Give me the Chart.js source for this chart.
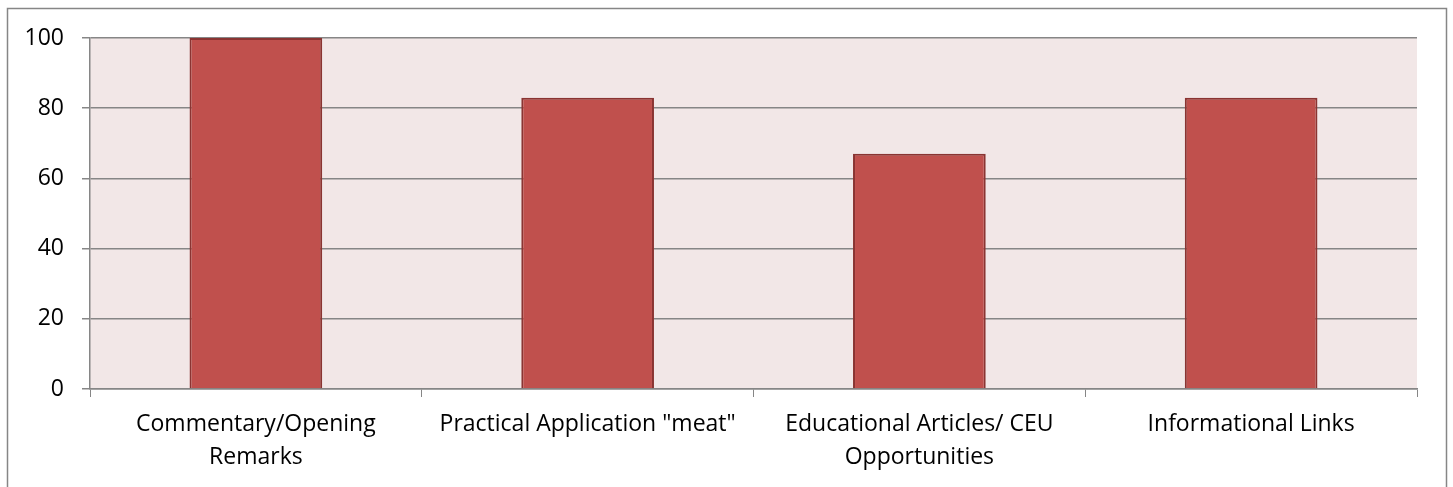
<!DOCTYPE html>
<html>
<head>
<meta charset="utf-8">
<script src="https://cdn.jsdelivr.net/npm/chart.js@4"></script>
<style>
  html, body { margin: 0; padding: 0; background: #fff; }
  #wrap { position: relative; width: 1453px; height: 487px; }
</style>
</head>
<body>
<div id="wrap"><canvas id="myChart" width="1453" height="487"></canvas></div>
<script>
// data
const categories = [
  ['Commentary/Opening', 'Remarks'],
  'Practical Application "meat"',
  ['Educational Articles/ CEU', 'Opportunities'],
  'Informational Links'
];
const values = [100, 83, 67, 83];
const yTicks = [0, 20, 40, 60, 80, 100];

const FONT = "'Open Sans', 'Liberation Sans', sans-serif";

// frame + plot background
const frame = {
  id: 'frame',
  beforeDraw(chart) {
    const {ctx, chartArea: a} = chart;
    ctx.save();
    ctx.fillStyle = '#F2E7E7';
    ctx.fillRect(a.left, a.top, a.right - a.left, a.bottom - a.top);
    ctx.strokeStyle = '#868686';
    ctx.lineWidth = 1.5;
    ctx.strokeRect(7.5, 8.5, 1439, 500);
    ctx.restore();
  }
};

const config = {
  type: 'bar',
  data: {
    labels: categories,
    datasets: [{
      data: values,
      backgroundColor: '#C0504D',
      borderColor: '#8A3432',
      borderWidth: 2,
      categoryPercentage: 1,
      barPercentage: 0.4
    }]
  },
  options: {
    responsive: false,
    animation: false,
    layout: { padding: { top: 38, right: 36, left: 0, bottom: 0 } },
    plugins: {
      legend: { display: false },
      tooltip: { enabled: false }
    },
    scales: {
      x: {
        offset: true,
        grid: {
          offset: true,
          drawOnChartArea: false,
          color: '#868686',
          tickLength: 8,
          lineWidth: 1
        },
        border: { color: '#868686', width: 1.5 },
        ticks: {
          color: '#000',
          padding: 11,
          maxRotation: 0,
          autoSkip: false,
          font: { family: FONT, size: 23, lineHeight: 1.43 }
        },
        afterFit(s) { s.height = 98; }
      },
      y: {
        min: 0,
        max: 100,
        afterBuildTicks(s) { s.ticks = yTicks.map(v => ({ value: v })); },
        grid: { color: '#868686', lineWidth: 1.5, tickLength: 8 },
        border: { color: '#868686', width: 1.5 },
        ticks: {
          color: '#000',
          padding: 18,
          font: { family: FONT, size: 23 }
        },
        afterFit(s) { s.width = 90; }
      }
    }
  },
  plugins: [frame]
};

const myChart = new Chart(document.getElementById('myChart'), config);
</script>
</body>
</html>
